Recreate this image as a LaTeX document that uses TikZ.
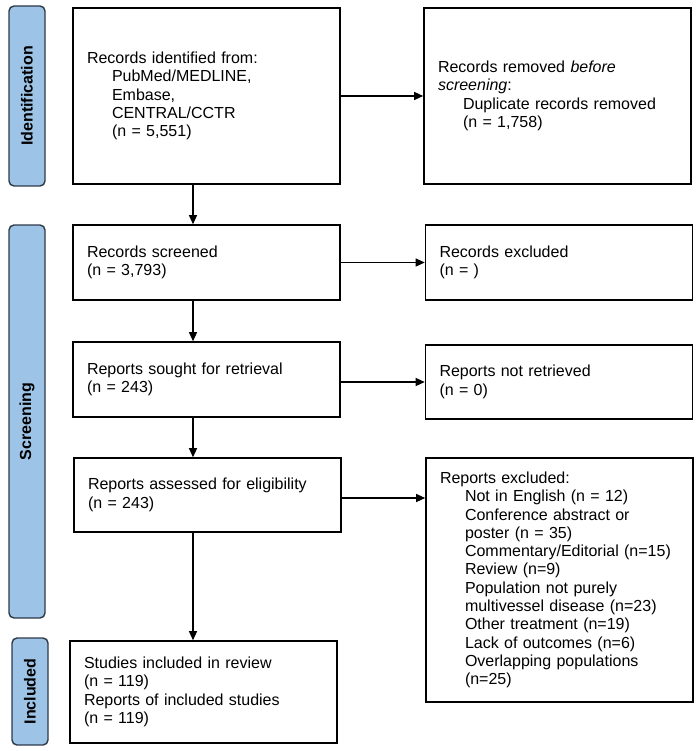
\documentclass[tikz,border=0pt]{standalone}
\usepackage{fontspec}
\setmainfont{Liberation Sans}
\usepackage{tikz}
\usetikzlibrary{arrows.meta, positioning, calc}
\usepackage{xcolor}
\definecolor{tabblue}{HTML}{9DC3E6}
\definecolor{tabedge}{HTML}{2E3A48}
\newcommand{\ind}{\hspace*{25pt}}

\begin{document}
\begin{tikzpicture}[
    x=1pt, y=-1pt,
    box/.style={draw, line width=1.6pt, minimum width=267pt, text width=239pt, inner xsep=14pt, align=left, font=\fontsize{16}{18.3}\selectfont},
    tab/.style={draw=tabedge, line width=1.4pt, rounded corners=5pt, fill=tabblue, minimum height=36pt, font=\bfseries\fontsize{16}{18}\selectfont, rotate=90},
    arr/.style={-{Triangle[length=9pt, width=8pt]}, line width=1.2pt},
]
\useasboundingbox (0,0) rectangle (700,751);

% phase tabs
\node[tab, minimum width=180pt] (tabid) at (27,96) {Identification};
\node[tab, minimum width=393pt] (tabscr) at (27,421.5) {Screening};
\node[tab, minimum width=107pt] (tabinc) at (30,691.5) {Included};

% main column
\node[box, minimum height=176pt] (id) at (206.5,96) {Records identified from:\\\ind PubMed/MEDLINE,\\\ind Embase,\\\ind CENTRAL/CCTR\\\ind (n = 5,551)};
\node[box, minimum height=75pt] (scr) at (206.5,262.5) {Records screened\\(n = 3,793)};
\node[box, minimum height=75pt] (srt) at (206.5,379.5) {Reports sought for retrieval\\(n = 243)};
\node[box, minimum height=74pt] (ass) at (207.5,495) {Reports assessed for eligibility\\(n = 243)};
\node[box, minimum height=102pt] (inc) at (203.5,692) {Studies included in review\\(n = 119)\\Reports of included studies\\(n = 119)};

% exclusion column
\node[box, minimum height=176pt] (dup) at (557.5,96) {Records removed \textit{before}\\\textit{screening}:\\\ind Duplicate records removed\\\ind (n = 1,758)};
\node[box, minimum height=75pt] (exc) at (559,262.5) {Records excluded\\(n = )};
\node[box, minimum height=74pt] (ret) at (559,382) {Reports not retrieved\\(n = 0)};
\node[box, minimum height=244pt] (rex) at (559.5,580) {Reports excluded:\\\ind Not in English (n = 12)\\\ind Conference abstract or\\\ind poster (n = 35)\\\ind Commentary/Editorial (n=15)\\\ind Review (n=9)\\\ind Population not purely\\\ind multivessel disease (n=23)\\\ind Other treatment (n=19)\\\ind Lack of outcomes (n=6)\\\ind Overlapping populations\\\ind (n=25)};

% connectors
\coordinate (spine) at (193,0);
\draw[arr] (id.south -| spine) -- (scr.north -| spine);
\draw[arr] (scr.south -| spine) -- (srt.north -| spine);
\draw[arr] (srt.south -| spine) -- (ass.north -| spine);
\draw[arr] (ass.south -| spine) -- (inc.north -| spine);

\draw[arr] (id) -- (dup);
\draw[arr] (scr) -- (exc);
\draw[arr] (srt.east |- ret.west) -- (ret.west);
\draw[arr] ($(ass.east)+(0,3)$) -- ($(ass.east -| rex.west)+(0,3)$);

\end{tikzpicture}
\end{document}
